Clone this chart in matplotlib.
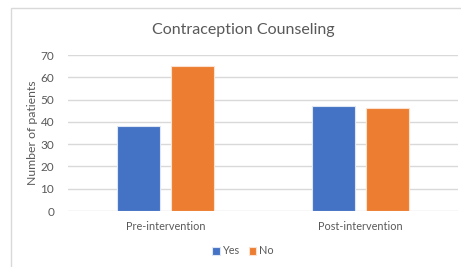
import matplotlib
matplotlib.use('Agg')
import matplotlib.pyplot as plt
from matplotlib.patches import Rectangle
import numpy as np

categories = ["Pre-intervention", "Post-intervention"]
yes_vals = [38, 47]
no_vals = [65, 46]
yticks = [0, 10, 20, 30, 40, 50, 60, 70]

W, H = 461, 267
plt.rcParams['font.family'] = ['Lato', 'DejaVu Sans']
txt = '#595959'

fig = plt.figure(figsize=(W / 100, H / 100), dpi=100)
# outer chart frame (right/bottom edges run off the image)
fig.patches.append(Rectangle((11 / W, -0.05), 1.1, 1 - 8 / H + 0.05,
                             transform=fig.transFigure, fill=False,
                             edgecolor='#D9D9D9', linewidth=1))

ax = fig.add_axes([68 / W, 1 - 211 / H, 390 / W, 156 / H])
x = np.arange(len(categories))
ax.bar(x - 0.14, yes_vals, 0.22, color='#4472C4', edgecolor='#DCE6F5',
       linewidth=0.8, label='Yes', zorder=3)
ax.bar(x + 0.14, no_vals, 0.22, color='#ED7D31', edgecolor='#FBE1CF',
       linewidth=0.8, label='No', zorder=3)

ax.set_xlim(-0.5, 1.5)
ax.set_ylim(0, 70)
ax.set_yticks(yticks)
ax.set_xticks(x)
ax.set_xticklabels(categories, fontsize=7.8)
ax.grid(axis='y', color='#D9D9D9', linewidth=1, zorder=0)
for s in ax.spines.values():
    s.set_visible(False)
ax.tick_params(length=0, colors=txt)
ax.tick_params(axis='y', pad=10, labelsize=8.5)
ax.tick_params(axis='x', pad=7)
ax.set_ylabel("Number of patients", color=txt, fontsize=8.8, labelpad=2)

fig.text(243 / W, 1 - 30 / H, "Contraception Counseling", ha='center',
         va='center', color=txt, fontsize=11.5)
fig.legend(loc='center', bbox_to_anchor=(243 / W, 1 - 251 / H), ncol=2,
           frameon=False, fontsize=7.8, handlelength=0.7, handleheight=0.7,
           handletextpad=0.3, columnspacing=0.8, labelcolor=txt)

fig.savefig('out.png', dpi=100)
